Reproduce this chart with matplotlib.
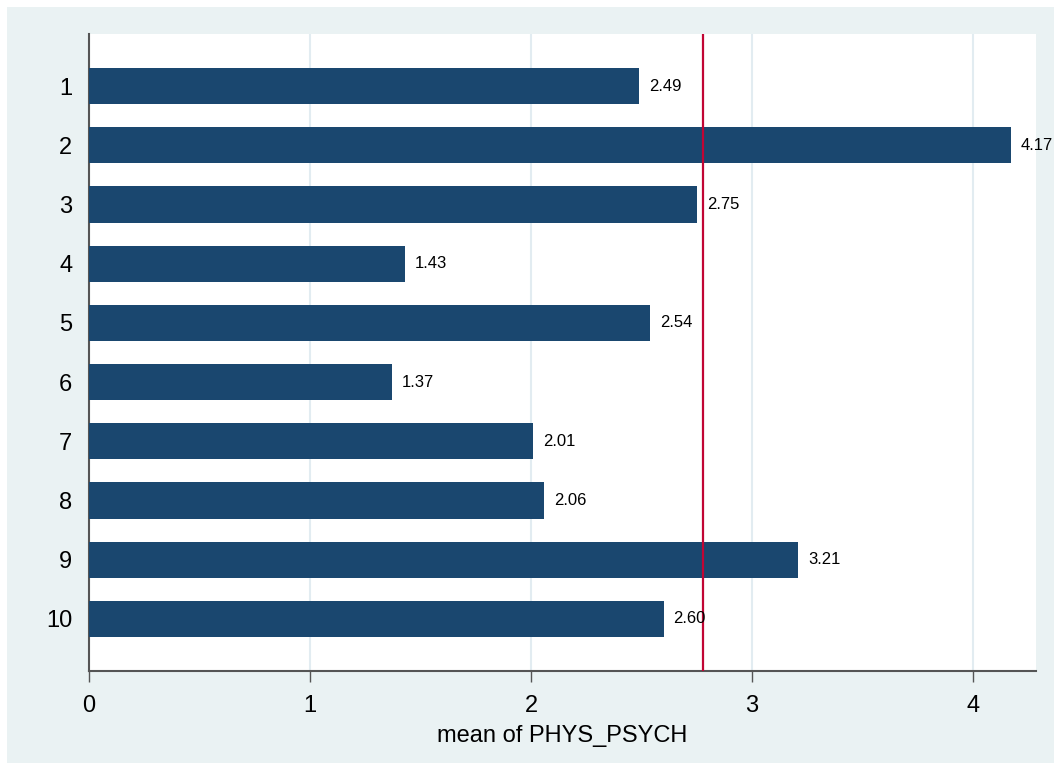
import matplotlib
matplotlib.use('Agg')
from matplotlib import pyplot as plt
from matplotlib.patches import Rectangle

plt.rcParams['font.family'] = ['Liberation Sans', 'DejaVu Sans']

# group means of PHYS_PSYCH
groups = ['1', '2', '3', '4', '5', '6', '7', '8', '9', '10']
means = [2.49, 4.17, 2.75, 1.43, 2.54, 1.37, 2.01, 2.06, 3.21, 2.60]
ref_line = 2.78
xticks = [0, 1, 2, 3, 4]

fig = plt.figure(figsize=(10.61, 7.7), dpi=100)
fig.patch.set_facecolor('white')
# stata-ish outer panel
fig.patches.append(Rectangle((7/1061, 7/770), 1047/1061, 756/770, transform=fig.transFigure,
                             facecolor='#eaf2f3', edgecolor='none', zorder=-10))

ax = fig.add_axes([89/1061, 1 - 671/770, 947/1061, 637/770])
ax.set_facecolor('white')

ypos = list(range(1, len(groups) + 1))
ax.barh(ypos, means, height=0.61, color='#1a476f', zorder=3)
for y, v in zip(ypos, means):
    ax.text(v + 0.045, y, '%.2f' % v, va='center', ha='left', fontsize=12, color='black', zorder=6)

ax.axvline(ref_line, color='#c10534', lw=1.6, zorder=5)

ax.set_ylim(10.88, 0.12)
ax.set_xlim(0, 4.285)
ax.set_yticks(ypos)
ax.set_yticklabels(groups, fontsize=17)
ax.set_xticks(xticks)
ax.set_xticklabels([str(t) for t in xticks], fontsize=17)
ax.tick_params(axis='y', length=0, pad=12)
ax.tick_params(axis='x', length=8, width=1, color='#555555', pad=9)
ax.grid(axis='x', color='#e2ecf1', lw=1.5, zorder=0)
ax.set_axisbelow(True)

for s in ['top', 'right']:
    ax.spines[s].set_visible(False)
for s in ['left', 'bottom']:
    ax.spines[s].set_color('#555555')
    ax.spines[s].set_linewidth(1.5)

ax.set_xlabel('mean of PHYS_PSYCH', fontsize=17, labelpad=6)

fig.savefig('out.png', dpi=100, facecolor=fig.get_facecolor())
